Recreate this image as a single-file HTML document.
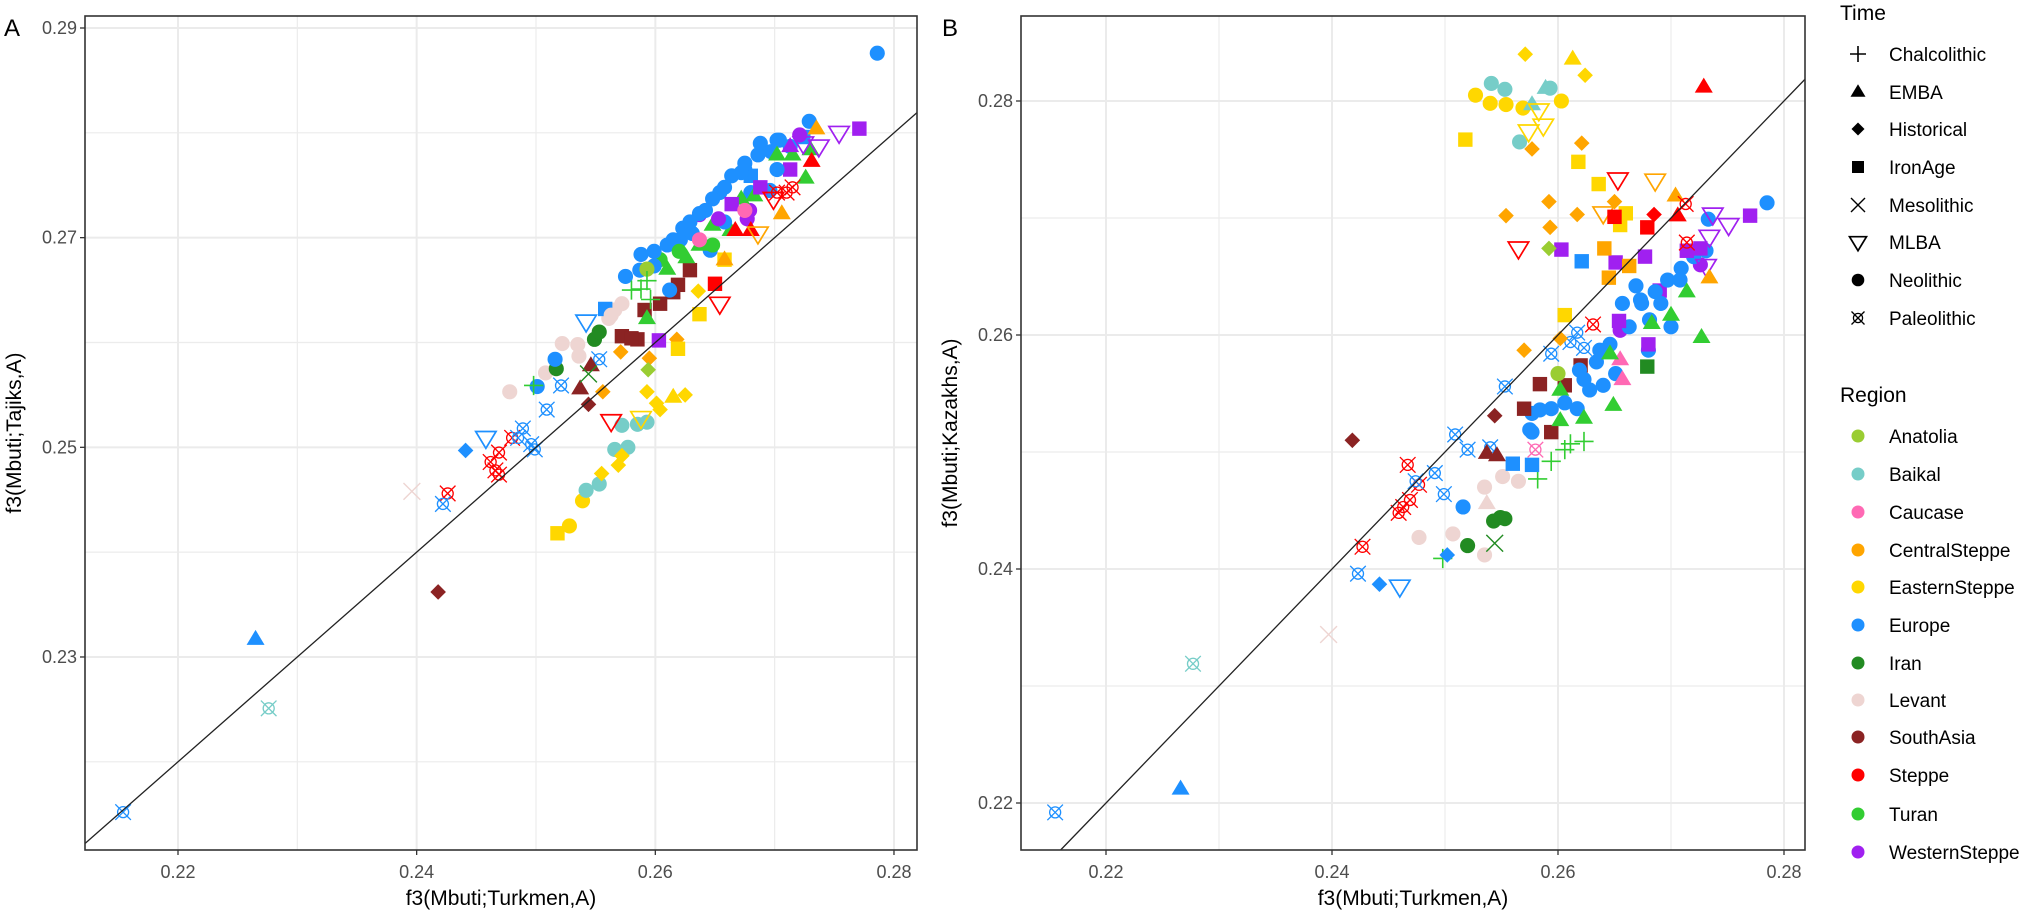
<!DOCTYPE html>
<html><head><meta charset="utf-8"><style>
html,body{margin:0;padding:0;background:#fff;overflow:hidden;width:2030px;height:917px}
svg{display:block}
text{font-family:"Liberation Sans",Arial,sans-serif}
</style></head><body>
<svg id="chart" width="2030" height="917" viewBox="0 0 2030 917" xmlns="http://www.w3.org/2000/svg">
<rect x="0" y="0" width="2030" height="917" fill="#fff"/>
<g id="panelA"></g>
<g id="panelB"></g>
<g id="legend"></g>
</svg>
<script>
const regions = ["Anatolia","Baikal","Caucase","CentralSteppe","EasternSteppe","Europe","Iran","Levant","SouthAsia","Steppe","Turan","WesternSteppe"];
const regionColors = ["#9ACD32","#76CDC8","#FF69B4","#FFA500","#FFD700","#1E90FF","#228B22","#EED5D2","#8B2323","#FF0000","#32CD32","#A020F0"];
const times = ["Chalcolithic","EMBA","Historical","IronAge","Mesolithic","MLBA","Neolithic","Paleolithic"];
const ticksA_x = [0.22,0.24,0.26,0.28];
const ticksA_y = [0.23,0.25,0.27,0.29];
const ticksB_x = [0.22,0.24,0.26,0.28];
const ticksB_y = [0.22,0.24,0.26,0.28];
// [x, y, regionIndex, timeIndex]
const pointsA = [
[0.2786,0.2876,5,6],[0.2265,0.2317,5,1],[0.2276,0.2251,1,7],[0.2154,0.2152,5,7],[0.2418,0.2362,8,2],
[0.2396,0.2458,7,4],[0.2426,0.2456,9,7],[0.2422,0.2446,5,7],[0.2441,0.2497,5,2],[0.2458,0.2509,5,5],
[0.2462,0.2486,9,7],[0.2469,0.2495,9,7],[0.2466,0.2478,9,7],[0.2469,0.2474,9,7],[0.2480,0.2509,9,7],
[0.2489,0.2518,5,7],[0.2496,0.2503,5,7],[0.2499,0.2498,5,7],[0.2509,0.2536,5,7],[0.2521,0.2559,5,7],[0.2553,0.2584,5,7],[0.2485,0.2509,5,7],
[0.2478,0.2553,7,6],[0.2508,0.2571,7,6],[0.2522,0.2599,7,6],[0.2535,0.2598,7,6],[0.2536,0.2587,7,6],[0.2566,0.2631,7,6],[0.2561,0.2623,7,6],
[0.2517,0.2575,6,6],[0.2549,0.2603,6,6],[0.2553,0.2610,6,6],
[0.2516,0.2584,5,6],[0.2501,0.2558,5,6],[0.2575,0.2663,5,6],[0.2588,0.2684,5,6],
[0.2537,0.2556,8,1],[0.2546,0.2578,8,1],[0.2544,0.2541,8,2],
[0.2498,0.2559,10,0],[0.2580,0.2650,10,0],[0.2544,0.2570,6,4],
[0.2518,0.2418,4,3],[0.2528,0.2425,4,6],[0.2539,0.2449,4,6],
[0.2542,0.2459,1,6],[0.2553,0.2465,1,6],[0.2566,0.2498,1,6],[0.2577,0.2500,1,6],[0.2585,0.2522,1,6],[0.2593,0.2524,1,6],[0.2572,0.2521,1,6],
[0.2555,0.2475,4,2],[0.2569,0.2483,4,2],[0.2572,0.2492,4,2],[0.2593,0.2553,4,2],[0.2601,0.2542,4,2],[0.2604,0.2536,4,2],[0.2625,0.2550,4,2],[0.2636,0.2649,4,2],
[0.2615,0.2548,4,1],[0.2563,0.2525,9,5],[0.2588,0.2528,4,5],
[0.2556,0.2553,3,2],[0.2571,0.2591,3,2],[0.2595,0.2585,3,2],[0.2618,0.2603,3,2],[0.2594,0.2574,0,2],
[0.2619,0.2594,4,3],[0.2637,0.2627,4,3],[0.2658,0.2679,4,3],
[0.2572,0.2606,8,3],[0.2585,0.2603,8,3],[0.2591,0.2631,8,3],[0.2604,0.2637,8,3],[0.2615,0.2648,8,3],[0.2619,0.2655,8,3],[0.2580,0.2604,8,3],
[0.2603,0.2602,11,3],[0.2650,0.2656,9,3],[0.2654,0.2637,9,5],
[0.2558,0.2632,5,3],[0.2680,0.2759,5,3],[0.2724,0.2796,5,3],
[0.2654,0.2743,5,6],[0.2637,0.2722,11,6],[0.2621,0.2698,5,6],[0.2604,0.2679,10,6],[0.2587,0.2669,5,6],[0.2675,0.2765,5,6],
[0.2688,0.2784,10,1],[0.2704,0.2793,5,6],[0.2721,0.2798,11,6],[0.2730,0.2784,10,1],[0.2713,0.2765,11,3],[0.2696,0.2745,5,6],
[0.2679,0.2726,11,6],[0.2663,0.2707,10,1],[0.2646,0.2688,5,6],[0.2629,0.2669,8,3],[0.2612,0.2650,5,6],[0.2596,0.2641,10,0],
[0.2599,0.2687,5,6],[0.2610,0.2693,5,6],[0.2623,0.2709,5,6],[0.2637,0.2723,5,6],[0.2648,0.2737,5,6],[0.2664,0.2759,5,6],[0.2672,0.2762,5,6],
[0.2688,0.2790,5,6],[0.2702,0.2793,5,6],[0.2729,0.2811,5,6],[0.2686,0.2779,5,6],[0.2658,0.2748,5,6],[0.2629,0.2715,5,6],[0.2615,0.2698,5,6],
[0.2599,0.2673,5,6],[0.2642,0.2726,5,6],[0.2675,0.2771,5,6],[0.2713,0.2787,5,6],[0.2631,0.2704,5,6],[0.2658,0.2715,5,6],[0.2680,0.2743,5,6],
[0.2702,0.2765,5,6],[0.2697,0.2782,5,6],
[0.2593,0.2623,10,1],[0.2610,0.2670,10,1],[0.2626,0.2681,10,1],[0.2648,0.2712,10,1],[0.2672,0.2737,10,1],[0.2683,0.2740,10,1],[0.2702,0.2779,10,1],
[0.2715,0.2779,10,1],[0.2726,0.2757,10,1],[0.2637,0.2693,10,1],[0.2620,0.2687,10,6],[0.2648,0.2693,10,6],
[0.2653,0.2718,11,6],[0.2677,0.2718,11,6],[0.2713,0.2787,11,1],[0.2754,0.2800,11,5],[0.2737,0.2787,11,5],[0.2724,0.2790,11,5],
[0.2771,0.2804,11,3],[0.2664,0.2732,11,3],[0.2688,0.2748,11,3],
[0.2735,0.2804,3,1],[0.2706,0.2723,3,1],[0.2658,0.2679,3,1],
[0.2731,0.2773,9,1],[0.2680,0.2707,9,1],[0.2667,0.2707,9,1],
[0.2710,0.2743,9,7],[0.2715,0.2748,9,7],[0.2702,0.2743,9,7],
[0.2686,0.2704,3,5],[0.2699,0.2737,9,5],[0.2637,0.2698,2,6],[0.2675,0.2726,2,6],
[0.2572,0.2637,7,6],[0.2563,0.2626,7,6],[0.2542,0.2620,5,5],[0.2593,0.2670,0,6],[0.2588,0.2651,10,0],[0.2593,0.2659,10,0]
];
const pointsB = [
[0.2155,0.2192,5,7],[0.2266,0.2212,5,1],[0.2277,0.2319,1,7],[0.2397,0.2344,7,4],
[0.2423,0.2396,5,7],[0.2442,0.2387,5,2],[0.2460,0.2385,5,5],
[0.2427,0.2419,9,7],[0.2459,0.2448,9,7],[0.2463,0.2453,9,7],[0.2469,0.2459,9,7],[0.2467,0.2489,9,7],[0.2477,0.2472,9,7],
[0.2474,0.2475,5,7],[0.2491,0.2482,5,7],[0.2499,0.2464,5,7],[0.2509,0.2515,5,7],[0.2520,0.2502,5,7],[0.2540,0.2504,5,7],[0.2553,0.2556,5,7],
[0.2594,0.2584,5,7],[0.2611,0.2594,5,7],[0.2623,0.2589,5,7],[0.2617,0.2602,5,7],
[0.2418,0.2510,8,2],[0.2544,0.2531,8,2],
[0.2516,0.2453,5,6],[0.2577,0.2533,5,6],[0.2577,0.2517,5,6],
[0.2477,0.2427,7,6],[0.2507,0.2430,7,6],[0.2535,0.2412,7,6],[0.2535,0.2470,7,6],[0.2565,0.2475,7,6],[0.2551,0.2479,7,6],[0.2537,0.2456,7,1],
[0.2520,0.2420,6,6],[0.2543,0.2441,6,6],[0.2549,0.2444,6,6],[0.2553,0.2443,6,6],[0.2544,0.2422,6,4],
[0.2498,0.2409,10,0],[0.2582,0.2477,10,0],[0.2594,0.2492,10,0],[0.2606,0.2502,10,0],[0.2623,0.2509,10,0],
[0.2502,0.2412,5,2],[0.2537,0.2499,8,1],[0.2546,0.2497,8,1],
[0.2560,0.2490,5,3],[0.2577,0.2489,5,3],[0.2621,0.2663,5,3],[0.2580,0.2502,2,7],
[0.2570,0.2537,8,3],[0.2584,0.2558,8,3],[0.2606,0.2557,8,3],[0.2620,0.2574,8,3],[0.2594,0.2517,8,3],[0.2600,0.2567,0,6],
[0.2673,0.2630,5,6],[0.2655,0.2604,11,6],[0.2637,0.2587,5,6],[0.2619,0.2570,5,6],[0.2602,0.2553,10,1],[0.2584,0.2536,5,6],
[0.2690,0.2638,11,3],[0.2708,0.2647,5,6],[0.2726,0.2660,11,6],[0.2681,0.2613,5,6],[0.2655,0.2579,2,1],[0.2628,0.2553,5,6],
[0.2602,0.2527,10,1],[0.2575,0.2519,5,6],
[0.2594,0.2537,5,6],[0.2606,0.2542,5,6],[0.2623,0.2562,5,6],[0.2634,0.2577,5,6],[0.2646,0.2592,5,6],[0.2663,0.2607,5,6],[0.2674,0.2627,5,6],
[0.2686,0.2637,5,6],[0.2697,0.2647,5,6],[0.2709,0.2657,5,6],[0.2657,0.2627,5,6],[0.2669,0.2642,5,6],[0.2691,0.2627,5,6],[0.2700,0.2607,5,6],
[0.2640,0.2557,5,6],[0.2617,0.2537,5,6],[0.2651,0.2567,5,6],[0.2680,0.2587,5,6],[0.2720,0.2667,5,6],[0.2731,0.2672,5,6],
[0.2785,0.2713,5,6],[0.2733,0.2699,5,6],
[0.2646,0.2584,10,1],[0.2649,0.2540,10,1],[0.2683,0.2610,10,1],[0.2700,0.2617,10,1],[0.2714,0.2637,10,1],[0.2727,0.2598,10,1],[0.2623,0.2529,10,1],
[0.2611,0.2507,10,0],[0.2679,0.2573,6,3],
[0.2603,0.2673,11,3],[0.2651,0.2662,11,3],[0.2677,0.2667,11,3],[0.2726,0.2674,11,3],[0.2770,0.2702,11,3],[0.2654,0.2612,11,3],[0.2680,0.2592,11,3],[0.2714,0.2672,11,3],
[0.2737,0.2703,11,5],[0.2751,0.2694,11,5],[0.2734,0.2684,11,5],[0.2731,0.2659,11,5],[0.2657,0.2562,2,1],
[0.2527,0.2805,4,6],[0.2540,0.2798,4,6],[0.2554,0.2797,4,6],[0.2569,0.2794,4,6],[0.2603,0.2800,4,6],
[0.2541,0.2815,1,6],[0.2553,0.2810,1,6],[0.2566,0.2765,1,6],[0.2593,0.2811,1,6],[0.2577,0.2797,1,1],[0.2589,0.2811,1,1],
[0.2571,0.2840,4,2],[0.2624,0.2822,4,2],[0.2613,0.2836,4,1],
[0.2574,0.2774,4,5],[0.2587,0.2779,4,5],[0.2583,0.2792,4,5],
[0.2577,0.2759,3,2],[0.2621,0.2764,3,2],
[0.2518,0.2767,4,3],[0.2618,0.2748,4,3],[0.2636,0.2729,4,3],[0.2606,0.2617,4,3],[0.2655,0.2694,4,3],[0.2660,0.2704,4,3],
[0.2729,0.2812,9,1],[0.2653,0.2733,9,5],[0.2565,0.2674,9,5],[0.2686,0.2732,3,5],[0.2640,0.2704,3,5],
[0.2554,0.2702,3,2],[0.2593,0.2692,3,2],[0.2617,0.2703,3,2],[0.2592,0.2714,3,2],[0.2650,0.2714,3,2],[0.2570,0.2587,3,2],[0.2602,0.2597,3,2],
[0.2592,0.2674,0,2],
[0.2641,0.2674,3,3],[0.2645,0.2649,3,3],[0.2663,0.2659,3,3],
[0.2650,0.2701,9,3],[0.2679,0.2692,9,3],[0.2685,0.2703,9,2],[0.2706,0.2702,9,1],[0.2704,0.2719,3,1],[0.2734,0.2649,3,1],
[0.2713,0.2712,9,7],[0.2714,0.2679,9,7],[0.2631,0.2609,9,7]
];

const NS = "http://www.w3.org/2000/svg";
const MS = 1.2;
function mk(tag, attrs, parent) {
  const e = document.createElementNS(NS, tag);
  for (const k in attrs) e.setAttribute(k, attrs[k]);
  parent.appendChild(e);
  return e;
}
function marker(g, cx, cy, t, col, scale) {
  const s = scale || MS;
  const grp = mk("g", {}, g);
  
  
  if (t === 0) {
    mk("path", {d:`M${cx-8*s},${cy}H${cx+8*s}M${cx},${cy-8*s}V${cy+8*s}`, stroke:col, "stroke-width":1.6, fill:"none"}, grp);
  } else if (t === 1) {
    const h = 12.5*s, w = 7.5*s;
    mk("path", {d:`M${cx},${cy-h*0.62}L${cx+w},${cy+h*0.38}L${cx-w},${cy+h*0.38}Z`, fill:col}, grp);
  } else if (t === 2) {
    const r = 6.5*s;
    mk("path", {d:`M${cx},${cy-r}L${cx+r},${cy}L${cx},${cy+r}L${cx-r},${cy}Z`, fill:col}, grp);
  } else if (t === 3) {
    const r = 6*s;
    mk("rect", {x:cx-r, y:cy-r, width:2*r, height:2*r, fill:col}, grp);
  } else if (t === 4) {
    const r = 7*s;
    mk("path", {d:`M${cx-r},${cy-r}L${cx+r},${cy+r}M${cx-r},${cy+r}L${cx+r},${cy-r}`, stroke:col, "stroke-width":1.4, fill:"none"}, grp);
  } else if (t === 5) {
    const w = 8.5*s, h = 14*s;
    mk("path", {d:`M${cx-w},${cy-h*0.38}L${cx+w},${cy-h*0.38}L${cx},${cy+h*0.62}Z`, stroke:col, "stroke-width":1.7, fill:"none"}, grp);
  } else if (t === 6) {
    mk("circle", {cx:cx, cy:cy, r:6.3*s, fill:col}, grp);
  } else {
    const r = 6.5*s;
    mk("circle", {cx:cx, cy:cy, r:4.6*s, stroke:col, "stroke-width":1.3, fill:"none"}, grp);
    mk("path", {d:`M${cx-r},${cy-r}L${cx+r},${cy+r}M${cx-r},${cy+r}L${cx+r},${cy-r}`, stroke:col, "stroke-width":1.3, fill:"none"}, grp);
  }
}

function drawPanel(g, cfg) {
  const {L,R,T,B,x0,xpx0,xs,y0,ypy0,ys,xticks,yticks,minX,minY,pts,ytitle,label,clipId} = cfg;
  const X = v => xpx0 + (v - x0) * xs;
  const Y = v => ypy0 - (v - y0) * ys;
  const defs = mk("defs", {}, g);
  const cp = mk("clipPath", {id:clipId}, defs);
  mk("rect", {x:L, y:T, width:R-L, height:B-T}, cp);
  const grid = mk("g", {}, g);
  
  
  minX.forEach(v => mk("line", {x1:X(v), x2:X(v), y1:T, y2:B, stroke:"#ececec", "stroke-width":1.2}, grid));
  minY.forEach(v => mk("line", {x1:L, x2:R, y1:Y(v), y2:Y(v), stroke:"#ececec", "stroke-width":1.2}, grid));
  xticks.forEach(v => mk("line", {x1:X(v), x2:X(v), y1:T, y2:B, stroke:"#ebebeb", "stroke-width":2}, grid));
  yticks.forEach(v => mk("line", {x1:L, x2:R, y1:Y(v), y2:Y(v), stroke:"#ebebeb", "stroke-width":2}, grid));
  const pg = mk("g", {"clip-path":`url(#${clipId})`}, g);
  
  
  pts.forEach(p => marker(pg, X(p[0]), Y(p[1]), p[3], regionColors[p[2]]));
  // identity line clipped analytically to panel
  const xMin = x0 + (L - xpx0)/xs, xMax = x0 + (R - xpx0)/xs;
  const yMin = y0 - (B - ypy0)/ys, yMax = y0 - (T - ypy0)/ys;
  const lo = Math.max(xMin, yMin), hi = Math.min(xMax, yMax);
  const ln = mk("line", {x1:X(lo), y1:Y(lo), x2:X(hi), y2:Y(hi), stroke:"#222", "stroke-width":1.3}, g);
  
  
  const br = mk("rect", {x:L, y:T, width:R-L, height:B-T, fill:"none", stroke:"#333", "stroke-width":1.6}, g);
  
  
  xticks.forEach(v => {
    mk("line", {x1:X(v), x2:X(v), y1:B, y2:B+5, stroke:"#333", "stroke-width":1.3}, g);
    const t = mk("text", {x:X(v), y:B+28, "text-anchor":"middle", "font-size":18, fill:"#4d4d4d"}, g);
    t.textContent = v.toFixed(2);
    
    
  });
  yticks.forEach(v => {
    mk("line", {x1:L-5, x2:L, y1:Y(v), y2:Y(v), stroke:"#333", "stroke-width":1.3}, g);
    const t = mk("text", {x:L-8, y:Y(v)+6, "text-anchor":"end", "font-size":18, fill:"#4d4d4d"}, g);
    t.textContent = v.toFixed(2);
    
    
  });
  const xt = mk("text", {x:(L+R)/2, y:905, "text-anchor":"middle", "font-size":21, fill:"#000"}, g);
  xt.textContent = "f3(Mbuti;Turkmen,A)";
  
  
  const yx = L - 64, yy = (T+B)/2;
  const yt = mk("text", {x:yx, y:yy, "text-anchor":"middle", "font-size":21, fill:"#000", transform:`rotate(-90 ${yx} ${yy})`}, g);
  yt.textContent = ytitle;
  
  
  const lb = mk("text", {x:label[0], y:label[1], "font-size":24, fill:"#000"}, g);
  lb.textContent = label[2];
  
  
}

drawPanel(document.getElementById("panelA"), {
  L:85, R:917, T:16, B:850,
  x0:0.22, xpx0:178, xs:11933, y0:0.29, ypy0:28, ys:10483,
  xticks:ticksA_x, yticks:ticksA_y, minX:[0.23,0.25,0.27], minY:[0.22,0.24,0.26,0.28],
  pts:pointsA, ytitle:"f3(Mbuti;Tajiks,A)", label:[4,36,"A"], clipId:"clipA"
});
drawPanel(document.getElementById("panelB"), {
  L:1021, R:1805, T:16, B:850,
  x0:0.22, xpx0:1106, xs:11300, y0:0.28, ypy0:101, ys:11700,
  xticks:ticksB_x, yticks:ticksB_y, minX:[0.23,0.25,0.27], minY:[0.23,0.25,0.27],
  pts:pointsB, ytitle:"f3(Mbuti;Kazakhs,A)", label:[942,36,"B"], clipId:"clipB"
});

const lg = document.getElementById("legend");
const timeRows = [54,92,129,167,205,242,280,318];
const regRows = [436,474,512,550,587,625,663,700,737,775,814,852];
const tt = mk("text", {x:1840, y:20, "font-size":21, fill:"#000"}, lg);
tt.textContent = "Time";


times.forEach((nm, i) => {
  const eg = mk("g", {}, lg);
  
  
  marker(eg, 1858, timeRows[i], i, "#000", 1);
  const t = mk("text", {x:1889, y:timeRows[i]+7, "font-size":19, fill:"#000"}, eg);
  t.textContent = nm;
});
const rt = mk("text", {x:1840, y:402, "font-size":21, fill:"#000"}, lg);
rt.textContent = "Region";


regions.forEach((nm, i) => {
  const eg = mk("g", {}, lg);
  
  
  mk("circle", {cx:1858, cy:regRows[i], r:6.5, fill:regionColors[i]}, eg);
  const t = mk("text", {x:1889, y:regRows[i]+7, "font-size":19, fill:"#000"}, eg);
  t.textContent = nm;
});
</script>
</body></html>
